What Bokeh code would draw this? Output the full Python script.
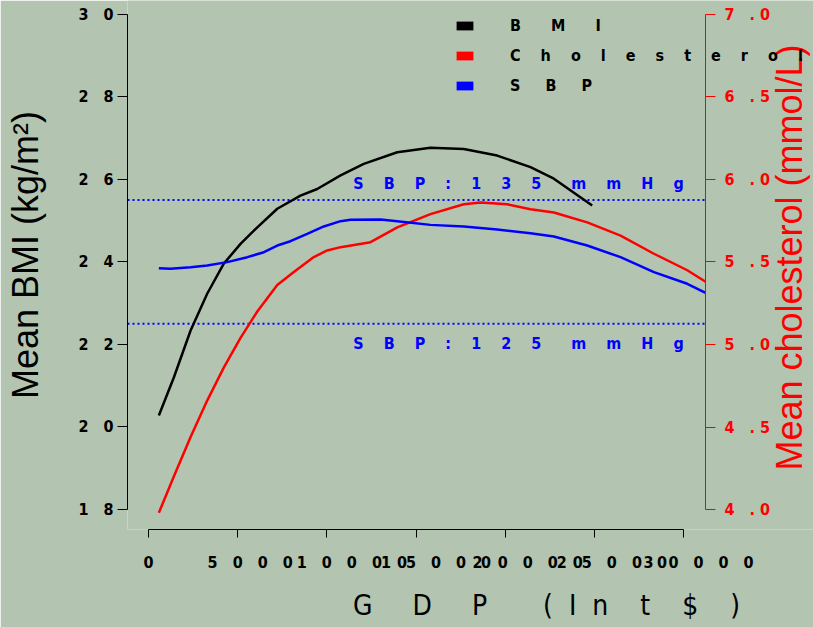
import math
from bokeh.plotting import figure
from bokeh.models import Range1d, LinearAxis, FixedTicker, Label, Legend, LegendItem
from bokeh.embed import file_html
from bokeh.resources import INLINE

# ---------------- data ----------------
gdp_bmi = [580, 1420, 2360, 3290, 4220, 5160, 6100, 7220, 8520, 9460, 10770,
           12070, 13950, 15810, 17680, 19550, 21420, 22730, 24880]
bmi = [20.28, 21.20, 22.34, 23.23, 23.96, 24.44, 24.84, 25.29, 25.61, 25.77, 26.10,
       26.38, 26.66, 26.77, 26.74, 26.58, 26.30, 26.02, 25.37]

gdp_chol = [580, 1420, 2360, 3290, 4220, 5160, 6100, 7220, 8150, 9270, 10020, 10770,
            12450, 13950, 15810, 17680, 18620, 20110, 21420, 22730, 24600, 26470,
            28340, 30210, 31240]
chol = [3.98, 4.20, 4.44, 4.66, 4.86, 5.04, 5.20, 5.36, 5.44, 5.53, 5.57, 5.59,
        5.62, 5.71, 5.79, 5.85, 5.86, 5.85, 5.82, 5.80, 5.74, 5.66,
        5.55, 5.45, 5.38]

gdp_sbp = [580, 1230, 2360, 3290, 4410, 5540, 6470, 7220, 7960, 8900, 9830, 10770,
           11330, 13010, 13950, 15810, 17680, 19550, 21420, 22730, 24600, 26470,
           28340, 30210, 31240]
sbp = [129.50, 129.45, 129.58, 129.72, 129.99, 130.39, 130.79, 131.33, 131.68, 132.27,
       132.87, 133.30, 133.41, 133.43, 133.30, 133.00, 132.87, 132.63, 132.33, 132.06,
       131.33, 130.39, 129.18, 128.24, 127.51]

x_ticks = [0, 5000, 10000, 15000, 20000, 25000, 30000]
bmi_ticks = [18, 20, 22, 24, 26, 28, 30]
chol_ticks = [4.0, 4.5, 5.0, 5.5, 6.0, 6.5, 7.0]
sbp_refs = [135, 125]
series_names = ["BMI", "Cholesterol", "SBP"]

# ---------------- styling / geometry ----------------
BG = "#b3c5b0"
COND = "DejaVu Sans Condensed, DejaVu Sans, sans-serif"
SANS = "Liberation Sans, Arial, sans-serif"
NB = "\u00a0"
colors = ["black", "red", "blue"]

X_START = -1178.0          # left edge of plotting region
X_EDGE = 31234.0           # where the original plotting region ended (right axis)
X_END = 37289.0            # frame extends to the canvas edge


def spread(s, n, sp=None):
    if sp is None:
        sp = n
    out = ""
    for i, ch in enumerate(s):
        if ch == " ":
            out += NB * sp
            continue
        out += ch
        if i < len(s) - 1 and s[i + 1] != " ":
            out += NB * n
    return out


def spread_gaps(chars, gaps):
    out = chars[0]
    for ch, g in zip(chars[1:], gaps):
        out += NB * g + ch
    return out


p = figure(width=813, height=627, output_backend="svg", toolbar_location=None,
           x_range=Range1d(X_START, X_END), y_range=Range1d(17.515, 30.3394),
           min_border_left=127, min_border_right=0, min_border_top=0,
           min_border_bottom=98)
p.background_fill_color = BG
p.border_fill_color = BG
p.outline_line_color = None
p.xgrid.visible = False
p.ygrid.visible = False

p.extra_y_ranges = {"chol": Range1d(3.8788, 7.0848), "sbp": Range1d(108.384, 151.131)}


def style_ticks(ax, color):
    ax.major_tick_in = 0
    ax.minor_tick_line_color = None
    ax.major_label_text_font = COND
    ax.major_label_text_font_style = "bold"
    ax.major_label_text_font_size = "16px"
    ax.major_label_text_color = color
    ax.axis_line_color = color
    ax.major_tick_line_color = color


# left axis
ya = p.yaxis[0]
ya.ticker = FixedTicker(ticks=bmi_ticks)
ya.bounds = (18, 30)
ya.major_label_overrides = {t: spread(str(t), 3) for t in bmi_ticks}
ya.major_tick_out = 10
ya.major_label_standoff = 4
style_ticks(ya, "black")
ya.axis_label = NB * 2 + "Mean BMI (kg/m²)"
ya.axis_label_text_font = SANS
ya.axis_label_text_font_style = "normal"
ya.axis_label_text_font_size = "36px"
ya.axis_label_text_color = "black"
ya.axis_label_standoff = 29

# bottom axis
shifts = {0: 0, 5000: 12, 10000: 25, 15000: 20, 20000: 23, 25000: 17, 30000: 15}
xa = p.xaxis[0]
xa.ticker = FixedTicker(ticks=x_ticks)
xa.bounds = (0, 30000)
xa.major_label_overrides = {t: NB * round(2 * shifts[t] / 5.0) + spread(str(t), 3)
                            for t in x_ticks}
xa.major_tick_out = 8
xa.major_label_standoff = 15
style_ticks(xa, "black")
xa.axis_label = NB * 19 + spread_gaps(list("GDP(Int$)"), [5, 5, 7, 2, 2, 4, 4, 4])
xa.axis_label_text_font = COND
xa.axis_label_text_font_style = "normal"
xa.axis_label_text_font_size = "28px"
xa.axis_label_text_color = "black"
xa.axis_label_standoff = 14


def chol_label(v):
    s = f"{v:.1f}"
    return s[0] + NB * 3 + "." + NB * 1 + s[2]


ra = LinearAxis(y_range_name="chol", ticker=FixedTicker(ticks=chol_ticks),
                bounds=(4, 7), fixed_location=X_EDGE)
ra.major_label_overrides = {t: chol_label(t) for t in chol_ticks}
ra.major_tick_out = 10
ra.major_label_standoff = 9
style_ticks(ra, "red")
p.add_layout(ra, "right")

# reference lines (dotted, across the plotting region)
for ref in sbp_refs:
    p.line([X_START, X_EDGE], [ref, ref], y_range_name="sbp",
           line_color="blue", line_width=2, line_dash="2 3")

# curves
p.line(gdp_bmi, bmi, line_color=colors[0], line_width=2.5)
p.line(gdp_chol, chol, line_color=colors[1], line_width=2.5, y_range_name="chol")
p.line(gdp_sbp, sbp, line_color=colors[2], line_width=2.5, y_range_name="sbp")

# SBP annotation text
for ref, off in zip(sbp_refs, [17, -20]):
    p.add_layout(Label(x=20750, y=ref, y_range_name="sbp", y_offset=off,
                       text=spread(f"SBP:{ref} mmHg", 4, 6),
                       text_align="center", text_baseline="middle",
                       text_font=COND, text_font_style="bold",
                       text_font_size="16px", text_color="blue"))

# right-hand title (reads bottom-to-top)
p.add_layout(Label(x=662, y=272, x_units="screen", y_units="screen",
                   text="Mean cholesterol (mmol/L)", angle=math.pi / 2,
                   text_align="center", text_baseline="middle",
                   text_font=SANS, text_font_size="36px", text_color="red"))

# legend (colour keys only)
gaps = {"BMI": 6, "Cholesterol": 4, "SBP": 5}
items = []
nan = float("nan")
for name, col in zip(series_names, colors):
    r = p.quad(left=[nan], right=[nan], top=[nan], bottom=[nan],
               fill_color=col, line_color=None)
    items.append(LegendItem(label=spread(name, gaps[name]), renderers=[r]))
legend = Legend(items=items, location=(327, 434), padding=0, margin=0,
                spacing=10, glyph_width=21, glyph_height=11, label_height=20,
                label_standoff=35, border_line_alpha=0, background_fill_alpha=0,
                label_text_font=COND, label_text_font_style="bold",
                label_text_font_size="16px", label_text_color="black")
p.add_layout(legend)

open("out.html", "w").write(file_html(p, INLINE))
